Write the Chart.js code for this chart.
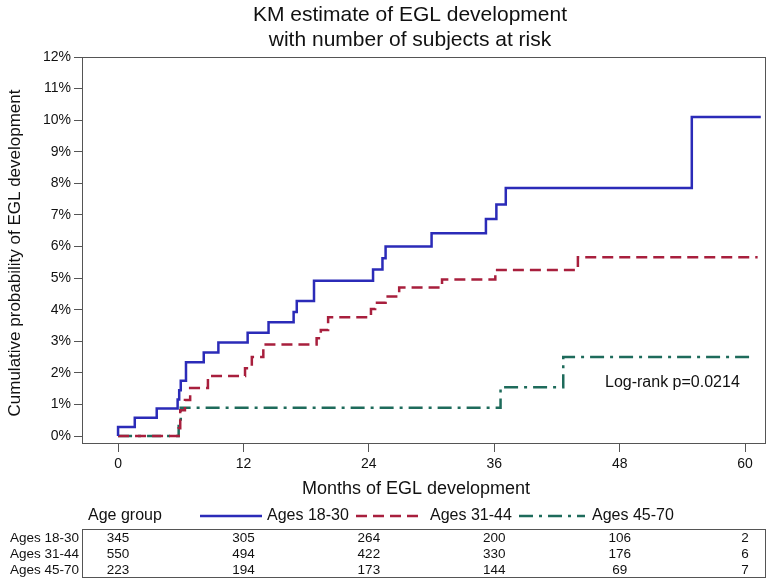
<!DOCTYPE html>
<html>
<head>
<meta charset="utf-8">
<title>KM estimate of EGL development</title>
<script src="https://cdn.jsdelivr.net/npm/chart.js@4.4.1/dist/chart.umd.min.js"></script>
<style>
  html, body { margin: 0; padding: 0; background: #fff; }
  #wrap { width: 774px; height: 582px; }
</style>
</head>
<body>
<div id="wrap"><canvas id="kmChart" width="774" height="582"></canvas></div>
<script>
// ---------- DATA ----------
const titleLines = ["KM estimate of EGL development", "with number of subjects at risk"];
const groups = ["Ages 18-30", "Ages 31-44", "Ages 45-70"];
const xTicks = [0, 12, 24, 36, 48, 60];
const yTicks = [0, 1, 2, 3, 4, 5, 6, 7, 8, 9, 10, 11, 12];

// step times (months) and cumulative probability (%) after each step
const youngTimes  = [0, 0, 1.6, 3.7, 5.7, 5.85, 6.0, 6.5, 8.2, 9.6, 12.4, 14.4, 16.8, 17.1, 18.75, 24.4, 25.3, 25.6, 30.0, 35.2, 36.2, 37.1, 54.9, 61.5];
const youngValues = [0, 0.29, 0.58, 0.87, 1.16, 1.45, 1.75, 2.34, 2.65, 2.96, 3.27, 3.6, 3.93, 4.28, 4.92, 5.27, 5.63, 6.0, 6.42, 6.87, 7.33, 7.85, 10.1, 10.1];

const midTimes  = [0, 5.77, 5.8, 5.95, 6.4, 6.9, 8.6, 12.15, 12.8, 13.9, 19.0, 19.4, 20.1, 24.2, 24.6, 25.6, 26.9, 31.0, 36.1, 44.0, 61.2];
const midValues = [0, 0, 0.25, 0.82, 1.14, 1.52, 1.9, 2.15, 2.5, 2.9, 3.1, 3.36, 3.76, 4.02, 4.22, 4.42, 4.7, 4.96, 5.26, 5.66, 5.66];

const oldTimes  = [0, 5.8, 6.0, 36.6, 42.6, 60.7];
const oldValues = [0, 0.45, 0.9, 1.55, 2.5, 2.5];

// numbers at risk at 0, 12, 24, 36, 48, 60 months
const riskYoung = [345, 305, 264, 200, 106, 2];
const riskMid   = [550, 494, 422, 330, 176, 6];
const riskOld   = [223, 194, 173, 144, 69, 7];

const pValueText = "Log-rank p=0.0214";

// ---------- STYLE ----------
const FONT = '"Liberation Sans", Arial, Helvetica, sans-serif';
const colors = ["#2b2bb8", "#a81f3d", "#1e6b5b"];
const dashes = [[], [11, 6], [14, 6, 3, 6]];

function toPoints(times, values) {
    return times.map((t, i) => ({ x: t, y: values[i] }));
}

const seriesData = [
    toPoints(youngTimes, youngValues),
    toPoints(midTimes, midValues),
    toPoints(oldTimes, oldValues)
];
const riskRows = [riskYoung, riskMid, riskOld];

// ---------- TEXT, BOX, LEGEND, RISK TABLE ----------
const overlay = {
    id: "overlay",
    afterDraw(chart) {
        const { ctx, chartArea: a, scales: { x } } = chart;
        ctx.save();

        // plot frame
        ctx.strokeStyle = "#555";
        ctx.lineWidth = 1;
        ctx.setLineDash([]);
        ctx.strokeRect(a.left + 0.5, a.top + 0.5, a.right - a.left - 1, a.bottom - a.top - 1);

        ctx.fillStyle = "#111";
        ctx.textBaseline = "middle";

        // title
        ctx.textAlign = "center";
        ctx.font = "21px " + FONT;
        ctx.fillText(titleLines[0], 410, 15);
        ctx.fillText(titleLines[1], 410, 40);

        // y axis title
        ctx.save();
        ctx.translate(15, 253);
        ctx.rotate(-Math.PI / 2);
        ctx.font = "17px " + FONT;
        ctx.fillText("Cumulative probability of EGL development", 0, 0);
        ctx.restore();

        // x axis title
        ctx.font = "18px " + FONT;
        ctx.fillText("Months of EGL development", 416, 489);

        // log-rank annotation
        ctx.textAlign = "left";
        ctx.font = "16px " + FONT;
        ctx.fillText(pValueText, 605, 383);

        // legend
        ctx.fillText("Age group", 88, 516);
        const legendItems = [
            { x0: 200, x1: 262, tx: 267 },
            { x0: 356, x1: 422, tx: 430 },
            { x0: 519, x1: 585, tx: 592 }
        ];
        legendItems.forEach((it, i) => {
            ctx.strokeStyle = colors[i];
            ctx.lineWidth = 2.5;
            ctx.setLineDash(dashes[i]);
            ctx.beginPath();
            ctx.moveTo(it.x0, 516);
            ctx.lineTo(it.x1, 516);
            ctx.stroke();
            ctx.fillText(groups[i], it.tx, 516);
        });
        ctx.setLineDash([]);

        // risk table
        const top = 529, bottom = 577;
        ctx.strokeStyle = "#555";
        ctx.lineWidth = 1;
        ctx.strokeRect(a.left + 0.5, top + 0.5, a.right - a.left - 1, bottom - top);
        ctx.font = "13.5px " + FONT;
        riskRows.forEach((row, r) => {
            const yy = 538 + r * 16;
            ctx.textAlign = "right";
            ctx.fillText(groups[r], 79, yy);
            ctx.textAlign = "center";
            row.forEach((n, c) => {
                ctx.fillText(String(n), x.getPixelForValue(xTicks[c]), yy);
            });
        });

        ctx.restore();
    }
};

// ---------- CHART ----------
new Chart(document.getElementById("kmChart"), {
    type: "line",
    data: {
        datasets: seriesData.map((pts, i) => ({
            label: groups[i],
            data: pts,
            borderColor: colors[i],
            borderWidth: 2.5,
            borderDash: dashes[i],
            stepped: true,
            fill: false,
            pointRadius: 0,
            tension: 0
        }))
    },
    options: {
        responsive: false,
        animation: false,
        layout: { padding: { left: 0, top: 57, right: 8, bottom: 108 } },
        plugins: {
            legend: { display: false },
            title: { display: false },
            tooltip: { enabled: false }
        },
        scales: {
            x: {
                type: "linear",
                min: -3.45,
                max: 62,
                afterBuildTicks: s => { s.ticks = xTicks.map(v => ({ value: v })); },
                afterFit: s => { s.height = 30; },
                border: { display: false },
                grid: { drawOnChartArea: false, tickLength: 8, color: "#555" },
                ticks: {
                    autoSkip: false,
                    maxRotation: 0,
                    padding: 4,
                    color: "#111",
                    font: { size: 14, family: FONT }
                }
            },
            y: {
                type: "linear",
                min: -0.25,
                max: 12,
                afterBuildTicks: s => { s.ticks = yTicks.map(v => ({ value: v })); },
                afterFit: s => { s.width = 82; },
                border: { display: false },
                grid: { drawOnChartArea: false, tickLength: 8, color: "#555" },
                ticks: {
                    padding: 3,
                    color: "#111",
                    font: { size: 14, family: FONT },
                    callback: v => v + "%"
                }
            }
        }
    },
    plugins: [overlay]
});
</script>
</body>
</html>
